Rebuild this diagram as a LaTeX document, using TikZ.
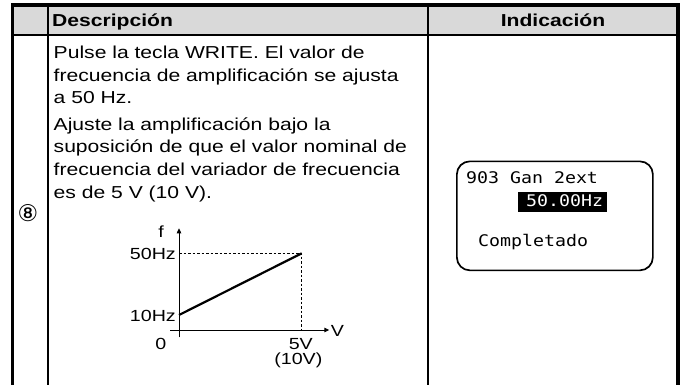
\documentclass[tikz,border=0pt]{standalone}
\usepackage{fontspec}
\setmainfont{Liberation Sans}[FakeStretch=1.22]
\newfontfamily\monofont{DejaVu Sans Mono}[FakeStretch=1.14]
\newfontfamily\circfont{DejaVu Sans}
\usetikzlibrary{arrows.meta}
\tikzset{
  outerline/.style={line width=3.8pt},
  innerline/.style={line width=2.2pt},
  bodytext/.style={anchor=base west, inner sep=0pt, font=\fontsize{17.3}{20}\selectfont},
  headtext/.style={inner sep=0pt, font=\fontsize{17.3}{20}\selectfont\bfseries},
  plotlbl/.style={inner sep=0pt, font=\fontsize{16.1}{18}\selectfont},
  axisline/.style={line width=0.9pt, -{Triangle[length=5pt,width=4.5pt]}},
  guideline/.style={line width=0.9pt, dash pattern=on 2.5pt off 2pt},
  ramp/.style={line width=2.2pt},
  lcdbox/.style={draw, line width=1.7pt, rounded corners=13pt, inner sep=0pt},
  monotext/.style={anchor=base west, inner sep=0pt, font=\fontsize{16}{18}\selectfont\monofont}
}
\begin{document}
\begin{tikzpicture}[x=1pt,y=-1pt]
\useasboundingbox (0,0) rectangle (682,385);
% header background
\fill[black!15] (12.5,5.3) rectangle (678,34.7);
% table lines
\draw[innerline] (12.5,34.7) -- (678,34.7);
\draw[innerline] (48.3,5.3) -- (48.3,385);
\draw[innerline] (428,5.3) -- (428,385);
\draw[outerline] (12.5,385) -- (12.5,5.3) -- (678,5.3) -- (678,385);
% header
\node[headtext, anchor=base west] (hdesc) at (52,27) {Descripción};
\node[headtext, anchor=base] (hind) at (553,27) {Indicación};
% description
\node[bodytext] (d1) at (53.5,58.7) {Pulse la tecla WRITE. El valor de};
\node[bodytext] (d2) at (53.5,81.3) {frecuencia de amplificación se ajusta};
\node[bodytext] (d3) at (53.5,104) {a 50 Hz.};
\node[bodytext] (d4) at (53.5,130) {Ajuste la amplificación bajo la};
\node[bodytext] (d5) at (53.5,152.7) {suposición de que el valor nominal de};
\node[bodytext] (d6) at (53.5,175.7) {frecuencia del variador de frecuencia};
\node[bodytext] (d7) at (53.5,198.3) {es de 5 V (10 V).};
% step number
\node[inner sep=0pt, font=\fontsize{23}{26}\selectfont\circfont] (num) at (28,213) {⑧};
% plot
\coordinate (ytop) at (179,228.3);
\coordinate (ybot) at (179,337.3);
\coordinate (xleft) at (170,330);
\coordinate (xright) at (329.3,330);
\coordinate (p10) at (179,315);
\coordinate (p50) at (301.7,253.3);
\coordinate (y50) at (179,253.3);
\coordinate (x5) at (301.7,330);
\draw[guideline] (y50) -- (p50) -- (x5);
\draw[axisline] (ybot) -- (ytop);
\draw[axisline] (xleft) -- (xright);
\draw[ramp] (p10) -- (p50);
\node[plotlbl, anchor=base] (lf) at (161,237.3) {f};
\node[plotlbl, anchor=base east] (l50) at (176,259.3) {50Hz};
\node[plotlbl, anchor=base east] (l10) at (176,321.7) {10Hz};
\node[plotlbl, anchor=base] (l0) at (160.8,349) {0};
\node[plotlbl, anchor=base] (l5v) at (300.8,349) {5V};
\node[plotlbl, anchor=base] (l10v) at (298.3,364.5) {(10V)};
\node[plotlbl, anchor=base] (lv) at (337.5,336.5) {V};
% display
\node[lcdbox, anchor=north west, minimum width=196pt, minimum height=109pt] (lcd) at (456,160.5) {};
\node[monotext] (lcd1) at (466,183.3) {903 Gan 2ext};
\node[fill=black, inner sep=0pt, anchor=north west, minimum width=89.4pt, minimum height=20pt] (hl) at (517.3,191.7) {};
\node[monotext, text=white] (lcd2) at (526,206) {50.00Hz};
\node[monotext] (lcd3) at (478,246.7) {Completado};
\end{tikzpicture}
\end{document}
